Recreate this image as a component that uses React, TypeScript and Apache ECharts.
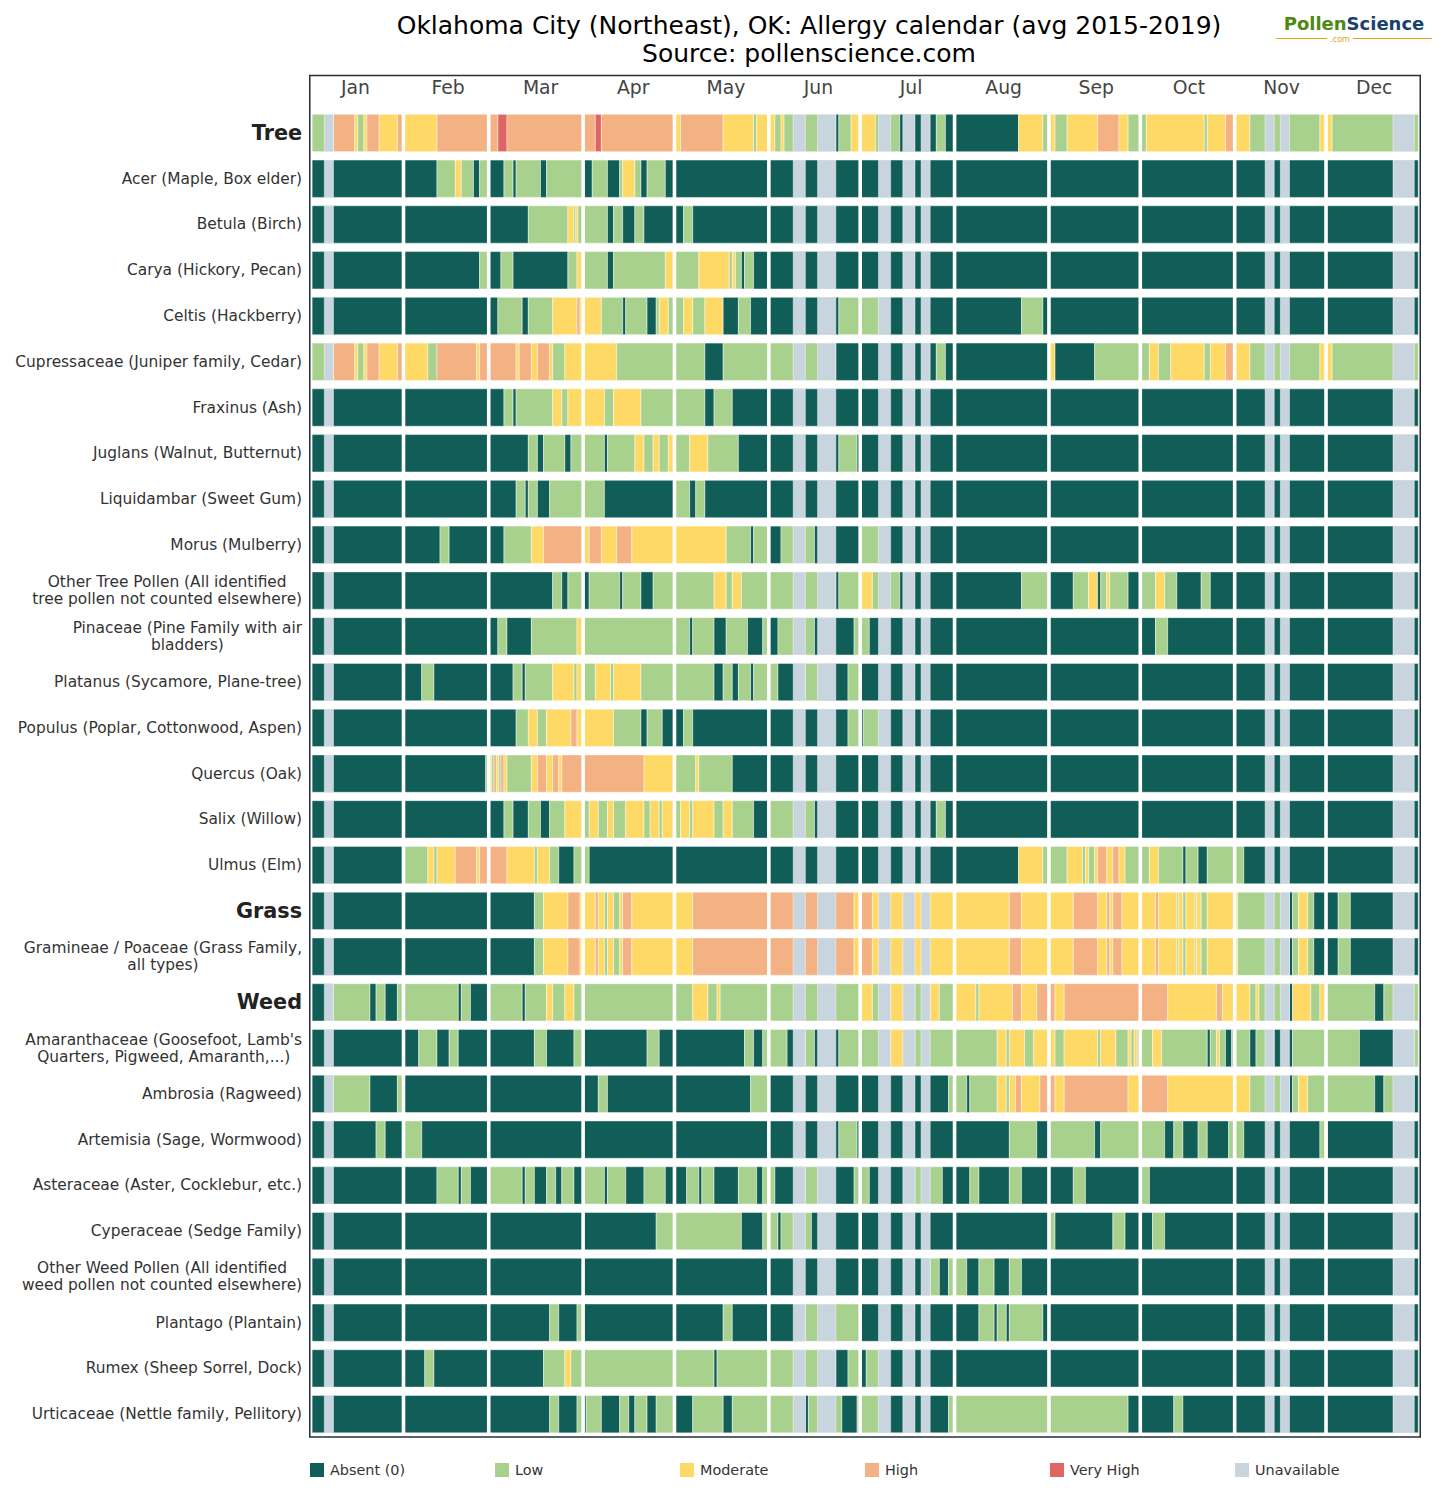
import React, { useEffect, useRef } from "react";
import * as echarts from "echarts";

const FONT = "DejaVu Sans";
const MONTHS = ["Jan", "Feb", "Mar", "Apr", "May", "Jun", "Jul", "Aug", "Sep", "Oct", "Nov", "Dec"];
const MONTH_BOUNDARIES = [31, 59, 90, 120, 151, 181, 212, 243, 273, 304, 334];
const LEVELS = ["Absent (0)", "Low", "Moderate", "High", "Very High", "Unavailable"];
const LEVEL_COLORS = ["#105e57", "#a9d18e", "#ffd966", "#f4b183", "#e06666", "#c9d5de"];
const GROUP_ROWS = ["Tree", "Grass", "Weed"];
const ROW_NAMES = [
  "Tree",
  "Acer (Maple, Box elder)",
  "Betula (Birch)",
  "Carya (Hickory, Pecan)",
  "Celtis (Hackberry)",
  "Cupressaceae (Juniper family, Cedar)",
  "Fraxinus (Ash)",
  "Juglans (Walnut, Butternut)",
  "Liquidambar (Sweet Gum)",
  "Morus (Mulberry)",
  "Other Tree Pollen (All identified\ntree pollen not counted elsewhere)",
  "Pinaceae (Pine Family with air\nbladders)",
  "Platanus (Sycamore, Plane-tree)",
  "Populus (Poplar, Cottonwood, Aspen)",
  "Quercus (Oak)",
  "Salix (Willow)",
  "Ulmus (Elm)",
  "Grass",
  "Gramineae / Poaceae (Grass Family,\nall types)",
  "Weed",
  "Amaranthaceae (Goosefoot, Lamb's\nQuarters, Pigweed, Amaranth,...)",
  "Ambrosia (Ragweed)",
  "Artemisia (Sage, Wormwood)",
  "Asteraceae (Aster, Cocklebur, etc.)",
  "Cyperaceae (Sedge Family)",
  "Other Weed Pollen (All identified\nweed pollen not counted elsewhere)",
  "Plantago (Plantain)",
  "Rumex (Sheep Sorrel, Dock)",
  "Urticaceae (Nettle family, Pellitory)",
];

// days with no data (shared by all rows)
const UNAVAILABLE = [[5, 8], [159, 163], [167, 173], [187, 191], [195, 199], [201, 204], [314, 317], [319, 322], [356, 363]];
const YEAR_END = 364.3;

// each row: [startDay, level] runs; a run lasts until the next start
const tree = [[1,1],[8,3],[15,2],[16,1],[18,2],[19,3],[23,2],[29,3],[31,2],[42,3],[62,4],[65,3],[94,4],[96,3],[120,2],[122,3],[136,2],[146,1],[147,2],[153,1],[155,2],[156,1],[173,0],[174,1],[178,2],[186,1],[194,0],[206,1],[209,0],[233,2],[241,1],[243,2],[245,1],[249,2],[259,3],[266,2],[269,1],[275,2],[294,1],[295,2],[301,3],[304,2],[309,1],[332,2],[336,1]];
const acer = [[1,0],[42,1],[48,2],[50,1],[54,0],[56,1],[59,0],[64,1],[67,0],[68,1],[76,0],[78,1],[90,0],[93,1],[98,0],[102,1],[103,2],[107,1],[109,0],[111,1],[117,0]];
const betula = [[1,0],[72,1],[85,2],[87,1],[87.6,2],[88.3,1],[98,0],[100,1],[103,0],[107,1],[110,0],[123,1],[126,0]];
const carya = [[1,0],[56,1],[59,0],[63,1],[67,0],[85,1],[88,2],[90,1],[98,0],[100,1],[117,2],[120,1],[128,2],[138,1],[139,2],[140,1],[142,0],[143,1],[146,0]];
const celtis = [[1,0],[62,1],[70,0],[72,1],[80,2],[88,3],[89,2],[96,1],[103,0],[104,1],[111,0],[114,1],[115,2],[118,1],[123,2],[126,1],[130,2],[136,0],[141,1],[145,0],[174,1],[187,0],[234,1],[241,0]];
const cupressaceae = [[1,1],[8,3],[15,2],[16,1],[18,2],[19,3],[23,2],[29,3],[31,2],[39,1],[42,3],[55,2],[56,3],[68,2],[69,3],[73,2],[75,3],[79,2],[80,1],[84,2],[101,1],[130,0],[136,1],[173,0],[206,1],[209,0],[243,2],[245,0],[258,1],[276,2],[279,1],[283,2],[294,1],[296,2],[301,3],[304,2],[309,1],[332,2],[336,1]];
const fraxinus = [[1,0],[64,1],[67,0],[68,1],[80,2],[83,1],[85,2],[97,1],[100,2],[109,1],[130,0],[133,1],[139,0]];
const juglans = [[1,0],[72,1],[75,0],[77,1],[84,0],[86,1],[97,0],[98,1],[107,2],[110,1],[113,2],[115,1],[118,2],[120,1],[125,2],[131,1],[141,0],[174,1],[180,0]];
const liquidambar = [[1,0],[68,1],[71,0],[72,1],[75,0],[79,1],[97,0],[120,1],[125,0],[127,1],[130,0]];
const morus = [[1,0],[43,1],[46,0],[64,1],[73,2],[77,3],[90,2],[92,3],[96,2],[101,3],[106,2],[137,1],[145,0],[146,1],[151,0],[155,1],[166,0],[181,1],[187,0]];
const otherTree = [[1,0],[80,1],[83,0],[85,1],[90,0],[92,1],[102,0],[103,1],[109,0],[113,1],[133,2],[137,1],[139,2],[142,1],[173,0],[174,1],[181,2],[185,1],[194,0],[234,1],[243,0],[251,1],[256,2],[259,0],[260,1],[262,2],[263,1],[269,0],[273,1],[278,2],[281,1],[285,0],[293,1],[296,0]];
const pinaceae = [[1,0],[62,1],[65,0],[73,1],[88,2],[90,1],[125,0],[126,1],[133,0],[137,1],[144,0],[149,1],[151,0],[154,1],[166,0],[179,1],[184,0],[278,1],[282,0]];
const platanus = [[1,0],[37,1],[41,0],[67,1],[70,0],[71,1],[80,2],[87,1],[88,2],[90,1],[94,2],[99,1],[100,2],[109,1],[133,0],[136,1],[139,0],[141,1],[145,0],[146,1],[154,0],[163,1],[167,0],[177,1],[181,0]];
const populus = [[1,0],[68,1],[72,2],[75,1],[78,2],[86,3],[88,2],[100,1],[109,0],[111,1],[116,0],[123,1],[126,0],[177,1],[181,0],[182,1],[187,0]];
const quercus = [[1,0],[58,1],[59,2],[60,1],[60.7,3],[61.5,2],[62.3,1],[63,3],[64,2],[65,1],[73,2],[75,3],[78,2],[80,3],[82,2],[83,3],[110,2],[120,1],[127,2],[128,1],[139,0]];
const salix = [[1,0],[64,1],[67,0],[72,1],[76,0],[79,1],[84,2],[90,1],[92,2],[95,1],[98,2],[100,1],[104,2],[110,1],[112,2],[115,1],[116,2],[120,1],[122,2],[125,1],[126,2],[133,1],[136,2],[139,1],[146,0],[151,1],[166,0],[206,1],[209,0]];
const ulmus = [[1,0],[31,1],[39,2],[41,1],[42,2],[48,3],[55,2],[56,3],[65,2],[74,1],[75,2],[79,1],[82,0],[87,1],[92,0],[233,2],[241,1],[249,2],[254,1],[255,2],[256,1],[258,2],[259,3],[262,2],[264,3],[266,2],[268,1],[276,2],[279,1],[287,0],[288,1],[292,0],[295,1],[307,0]];
const grass = [[1,0],[74,1],[77,2],[85,3],[89,2],[94,3],[95,2],[97,1],[98,2],[100,1],[102,2],[103,3],[106,2],[126,3],[179,2],[181,3],[185,2],[230,3],[234,2],[251,3],[259,2],[262,3],[263,2],[264,3],[267,2],[278,3],[279,2],[285,1],[285.5,2],[287,1],[288,2],[291,1],[291.5,2],[293,1],[295,2],[304,2],[305,1],[322,0],[323,1],[325,2],[328,1],[330,0],[338,1],[342,0]];
const gramineae = [[1,0],[74,1],[77,2],[85,3],[89,2],[94,3],[95,2],[97,1],[98,2],[100,1],[102,2],[103,3],[106,2],[126,3],[179,2],[181,3],[185,2],[230,3],[234,2],[251,3],[259,2],[262,3],[263,2],[264,3],[267,2],[278,3],[279,2],[285,1],[285.5,2],[287,1],[288,2],[291,1],[291.5,2],[293,1],[295,2],[304,2],[305,1],[322,0],[323,1],[325,2],[328,1],[330,0],[338,1],[342,0]];
const weed = [[1,0],[8,1],[20,0],[22,1],[25,0],[29,1],[49,0],[50,1],[53,0],[59,1],[70,0],[71,1],[78,2],[80,1],[84,2],[87,1],[126,2],[131,1],[134,2],[135,1],[181,2],[185,1],[191,2],[199,1],[204,2],[207,1],[212,2],[219,1],[220,2],[231,3],[234,2],[239,3],[245,2],[248,3],[282,2],[298,3],[300,2],[309,1],[311,2],[312,1],[322,0],[323,2],[329,1],[332,2],[334,1],[350,0],[353,1]];
const amaranthaceae = [[1,0],[36,1],[42,0],[46,1],[49,0],[74,1],[78,0],[87,1],[90,0],[111,1],[115,0],[143,1],[146,0],[149,1],[157,0],[163,1],[166,0],[174,1],[191,2],[199,1],[226,2],[229,1],[230,2],[235,1],[238,2],[245,1],[248,2],[259,1],[260,2],[265,1],[269,2],[270,1],[271,2],[272,1],[277,2],[280,1],[295,0],[296,1],[298,2],[299,1],[301,0],[303,1],[309,0],[311,1],[317,0],[323,1],[345,0],[363,1]];
const ambrosia = [[1,0],[8,1],[20,0],[29,1],[31,0],[95,1],[98,0],[145,1],[151,0],[210,1],[216,0],[217,1],[226,2],[229,1],[230,2],[232,3],[234,2],[240,3],[245,2],[248,3],[269,2],[273,3],[282,2],[309,1],[322,0],[323,1],[325,2],[328,1],[350,0],[353,1],[363,0]];
const artemisia = [[1,0],[22,1],[25,0],[31,1],[37,0],[174,1],[180,0],[230,1],[239,0],[243,1],[258,0],[260,1],[281,0],[284,1],[287,0],[292,1],[295,0],[302,1],[307,0],[332,1],[334.5,0]];
const asteraceae = [[1,0],[42,1],[49,0],[50,1],[53,0],[59,1],[70,0],[71,1],[74,0],[78,1],[81,0],[83,1],[87,0],[90,1],[97,0],[98,1],[104,0],[110,1],[117,0],[124,1],[128,0],[129,1],[133,0],[141,1],[147,0],[149,1],[153,0],[163,1],[167,0],[179,1],[184,0],[199,1],[208,0],[217,1],[220,0],[230,1],[234,0],[251,1],[255,0],[273,1],[276,0]];
const cyperaceae = [[1,0],[114,1],[142,0],[149,1],[154,0],[155,1],[165,0],[243,1],[245,0],[264,1],[268,0],[277,1],[281,0]];
const otherWeed = [[1,0],[204,1],[207,0],[210,1],[216,0],[220,1],[225,0],[230,1],[234,0]];
const plantago = [[1,0],[79,1],[82,0],[88,1],[90,0],[136,1],[139,0],[163,1],[181,0],[220,1],[225,0],[226,1],[229,0],[230,1],[241,0]];
const rumex = [[1,0],[38,1],[41,0],[77,1],[84,2],[86,1],[133,0],[134,1],[173,0],[177,1],[181,0],[183,1],[187,0]];
const urticaceae = [[1,0],[79,1],[82,0],[88,1],[90,0],[91,1],[96,0],[102,1],[105,0],[107,1],[111,0],[114,1],[120,0],[126,1],[136,0],[139,1],[163,0],[164,1],[175,0],[180,1],[187,0],[210,1],[269,0],[284,1],[287,0]];

const ROWS = [tree, acer, betula, carya, celtis, cupressaceae, fraxinus, juglans, liquidambar, morus, otherTree, pinaceae, platanus, populus, quercus, salix, ulmus, grass, gramineae, weed, amaranthaceae, ambrosia, artemisia, asteraceae, cyperaceae, otherWeed, plantago, rumex, urticaceae];

export default function App() {
  const ref = useRef<HTMLDivElement>(null);
  useEffect(() => {
    if (!ref.current) return;
    const chart = echarts.init(ref.current, null, { renderer: "svg" });

    const cells: number[][] = [];
    ROWS.forEach((runs, r) => {
      runs.forEach((run, k) => {
        const end = k + 1 < runs.length ? runs[k + 1][0] : YEAR_END;
        cells.push([run[0], end, r, run[1]]);
      });
    });
    ROWS.forEach((_, r) => {
      UNAVAILABLE.forEach(([s, e]) => cells.push([s, e, r, 5]));
    });

    const gridLeft = 309.1;
    const gridWidth = 1111.3;
    const gridTop = 110.1;
    const gridHeight = 29 * 45.757;

    const legendGraphics: any[] = [];
    LEVELS.forEach((name, i) => {
      legendGraphics.push({
        type: "rect",
        shape: { x: 310 + 185 * i, y: 1463, width: 14, height: 14 },
        style: { fill: LEVEL_COLORS[i] },
      });
      legendGraphics.push({
        type: "text",
        x: 330 + 185 * i,
        y: 1470,
        style: { text: name, fill: "#333", font: `14.4px "${FONT}"`, textVerticalAlign: "middle", textAlign: "left" },
      });
    });

    const option: any = {
      animation: false,
      backgroundColor: "#ffffff",
      grid: { left: gridLeft, top: gridTop, width: gridWidth, height: gridHeight, containLabel: false },
      xAxis: [
        { type: "value", min: 0, max: 365, show: false, position: "bottom" },
        {
          type: "category",
          data: MONTHS,
          position: "top",
          boundaryGap: true,
          axisLine: { show: false },
          axisTick: { show: false },
          splitLine: { show: false },
          axisLabel: { color: "#444", fontSize: 18.8, margin: 13, fontFamily: FONT, interval: 0 },
        },
      ],
      yAxis: {
        type: "category",
        data: ROW_NAMES,
        inverse: true,
        axisLine: { show: false },
        axisTick: { show: false },
        splitLine: { show: false },
        axisLabel: {
          interval: 0,
          margin: 7,
          formatter: (v: string) => {
            if (GROUP_ROWS.includes(v)) return `{g|${v}}`;
            return v.split("\n").map((l) => `{n|${l}}`).join("\n");
          },
          rich: {
            g: { fontSize: 20.8, fontWeight: "bold", color: "#222", fontFamily: FONT },
            n: { fontSize: 15.4, color: "#333", lineHeight: 17, align: "center", fontFamily: FONT },
          },
        },
      },
      series: [
        {
          type: "custom",
          xAxisIndex: 0,
          yAxisIndex: 0,
          encode: { x: [0, 1], y: 2 },
          data: cells,
          renderItem: (params: any, api: any) => {
            const s = api.value(0);
            const e = api.value(1);
            const r = api.value(2);
            const lv = api.value(3);
            const p0 = api.coord([s, r]);
            const p1 = api.coord([e, r]);
            const h = api.size([0, 1])[1] * 0.816;
            return {
              type: "rect",
              shape: { x: p0[0], y: p0[1] - h / 2, width: p1[0] - p0[0], height: h },
              style: { fill: LEVEL_COLORS[lv], stroke: "rgba(255,255,255,0.55)", lineWidth: 0.8 },
            };
          },
        },
        {
          type: "custom",
          xAxisIndex: 0,
          yAxisIndex: 0,
          encode: { x: 0, y: 1 },
          data: MONTH_BOUNDARIES.map((d) => [d, 0]),
          renderItem: (params: any, api: any) => {
            const x = api.coord([api.value(0), 0])[0];
            const cs = params.coordSys;
            return {
              type: "rect",
              shape: { x: x - 1.8, y: cs.y, width: 3.6, height: cs.height },
              style: { fill: "#ffffff" },
            };
          },
        },
      ],
      graphic: [
        {
          type: "text",
          x: 809,
          y: 25,
          style: { text: "Oklahoma City (Northeast), OK: Allergy calendar (avg 2015-2019)", fill: "#000", font: `25px "${FONT}"`, textAlign: "center", textVerticalAlign: "middle" },
        },
        {
          type: "text",
          x: 809,
          y: 53,
          style: { text: "Source: pollenscience.com", fill: "#000", font: `25px "${FONT}"`, textAlign: "center", textVerticalAlign: "middle" },
        },
        {
          type: "text",
          x: 1354,
          y: 23,
          style: {
            text: "{p|Pollen}{s|Science}",
            textAlign: "center",
            textVerticalAlign: "middle",
            rich: {
              p: { fill: "#4e8a12", font: `bold 18px "${FONT}"`, lineHeight: 20 },
              s: { fill: "#1d3f6e", font: `bold 18px "${FONT}"`, lineHeight: 20 },
            },
          },
        },
        { type: "line", shape: { x1: 1276, y1: 38.5, x2: 1327, y2: 38.5 }, style: { stroke: "#e3a21a", lineWidth: 1 } },
        { type: "line", shape: { x1: 1353, y1: 38.5, x2: 1432, y2: 38.5 }, style: { stroke: "#e3a21a", lineWidth: 1 } },
        {
          type: "text",
          x: 1340,
          y: 39,
          style: { text: ".com", fill: "#e3a21a", font: `8px "${FONT}"`, textAlign: "center", textVerticalAlign: "middle" },
        },
        {
          type: "rect",
          z: 100,
          shape: { x: 309.75, y: 75.5, width: 1110.5, height: 1361.5 },
          style: { fill: "none", stroke: "#23313a", lineWidth: 1.5 },
        },
        ...legendGraphics,
      ],
    };
    chart.setOption(option);
    return () => chart.dispose();
  }, []);
  return <div ref={ref} style={{ position: "absolute", left: 0, top: 0, width: 1449, height: 1509 }} />;
}
